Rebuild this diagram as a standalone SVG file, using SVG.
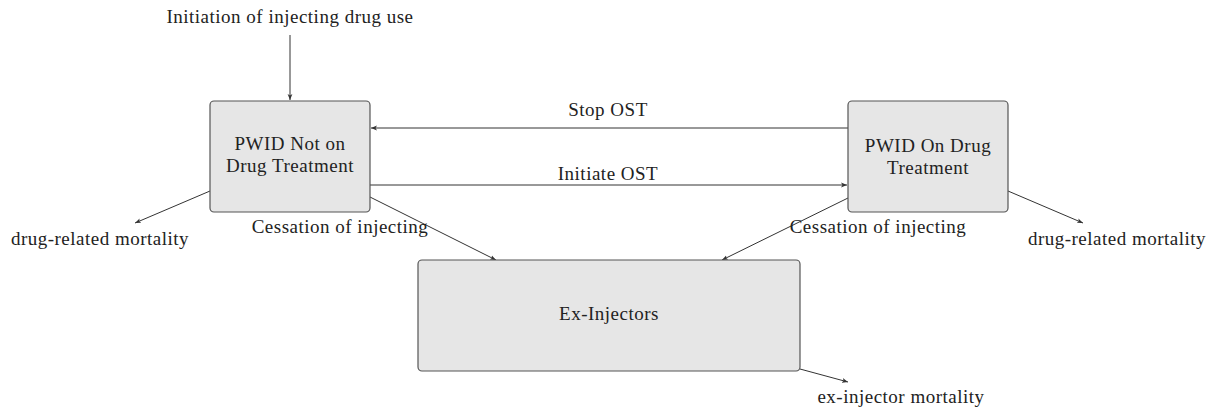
<svg xmlns="http://www.w3.org/2000/svg" width="1217" height="412" viewBox="0 0 1217 412">
<defs>
<marker id="ah" viewBox="0 0 10 10" refX="10" refY="5" markerWidth="6" markerHeight="6" orient="auto" markerUnits="userSpaceOnUse">
<path d="M0,1 L10,5 L0,9 L2.5,5 Z" fill="#333"/>
</marker>
<style>
.box{fill:#e6e6e6;stroke:#555;stroke-width:1.2}
.t{font-family:"Liberation Serif","DejaVu Serif",serif;font-size:19px;letter-spacing:0.5px;fill:#222;text-anchor:middle}
.c{stroke:#333;stroke-width:1;fill:none;marker-end:url(#ah)}
</style>
</defs>
<rect width="1217" height="412" fill="#fff"/>
<g id="connectors">
<line class="c" x1="290" y1="35" x2="290" y2="100"/>
<line class="c" x1="848" y1="128" x2="371" y2="128"/>
<line class="c" x1="370" y1="185" x2="847" y2="185"/>
<line class="c" x1="210" y1="191" x2="135" y2="223"/>
<line class="c" x1="370" y1="197" x2="496" y2="260"/>
<line class="c" x1="848" y1="198" x2="722" y2="260"/>
<line class="c" x1="1008" y1="191" x2="1083" y2="223"/>
<line class="c" x1="800" y1="369" x2="848" y2="382"/>
</g>
<g id="labels">
<text class="t" x="290" y="23">Initiation of injecting drug use</text>
<text class="t" x="608" y="116">Stop OST</text>
<text class="t" x="608" y="180">Initiate OST</text>
<text class="t" x="100" y="245">drug-related mortality</text>
<text class="t" x="340" y="233">Cessation of injecting</text>
<text class="t" x="878" y="233">Cessation of injecting</text>
<text class="t" x="1117" y="245">drug-related mortality</text>
<text class="t" x="901" y="403">ex-injector mortality</text>
</g>
<g id="node-not-on">
<rect class="box" x="210" y="101" width="160" height="111" rx="4"/>
<text class="t" x="290" y="150">PWID Not on</text>
<text class="t" x="290" y="172">Drug Treatment</text>
</g>
<g id="node-on">
<rect class="box" x="848" y="101" width="160" height="111" rx="4"/>
<text class="t" x="928" y="152">PWID On Drug</text>
<text class="t" x="928" y="174">Treatment</text>
</g>
<g id="node-ex">
<rect class="box" x="418" y="260" width="382" height="111" rx="4"/>
<text class="t" x="609" y="320">Ex-Injectors</text>
</g>
</svg>
